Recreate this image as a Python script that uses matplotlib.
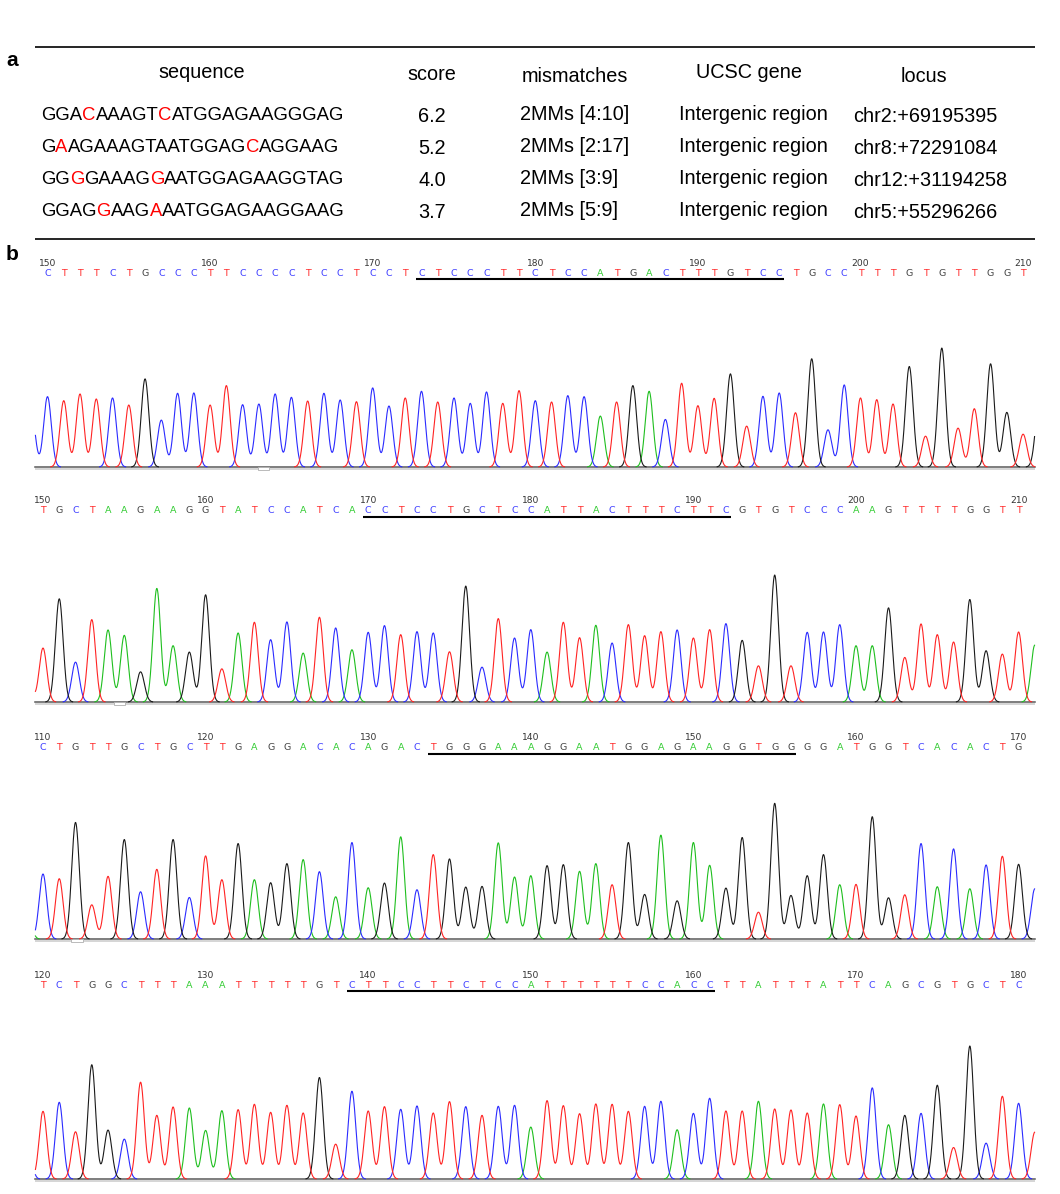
import matplotlib
matplotlib.use('Agg')
from matplotlib import pyplot as plt
from matplotlib.patches import Rectangle
import numpy as np

plt.rcParams['font.family'] = ['Liberation Sans', 'DejaVu Sans']

W, H = 1060, 1194

# ---------------- panel a : off-target table ----------------
headers = ['sequence', 'score', 'mismatches', 'UCSC gene', 'locus']
seqs = ['GGACAAAGTCATGGAGAAGGGAG',
        'GAAGAAAGTAATGGAGCAGGAAG',
        'GGGGAAAGGAATGGAGAAGGTAG',
        'GGAGGAAGAAATGGAGAAGGAAG']
mm_pos = [(4, 10), (2, 17), (3, 9), (5, 9)]   # 1-based mismatch positions (red)
scores = ['6.2', '5.2', '4.0', '3.7']
mismatches = ['2MMs [4:10]', '2MMs [2:17]', '2MMs [3:9]', '2MMs [5:9]']
genes = ['Intergenic region', 'Intergenic region', 'Intergenic region', 'Intergenic region']
loci = ['chr2:+69195395', 'chr8:+72291084', 'chr12:+31194258', 'chr5:+55296266']

# ---------------- panel b : chromatograms ----------------
starts = [150, 150, 110, 120]
bases = ['CTTTCTGCCCTTCCCCTCCTCCTCTCCCTTCTCCATGACTTTGTCCTGCCTTTGTGTTGGT',
         'TGCTAAGAAGGTATCCATCACCTCCTGCTCCATTACTTTCTTCGTGTCCCAAGTTTTGGTT',
         'CTGTTGCTGCTTGAGGACACAGACTGGGAAAGGAATGGAGAAGGTGGGGATGGTCACACTG',
         'TCTGGCTTTAAATTTTTGTCTTCCTTCTCCATTTTTTCCACCTTATTTATTCAGCGTGCTC']
targets = [(173, 195), (170, 192), (134, 156), (139, 161)]   # underlined site

heights1 = [210, 198, 218, 203, 206, 185, 263, 140, 220, 221,
            185, 243, 186, 188, 218, 208, 197, 220, 200, 195,
            236, 182, 206, 226, 194, 206, 190, 224, 190, 228,
            198, 194, 213, 210, 152, 194, 243, 226, 142, 250,
            183, 205, 278, 122, 211, 221, 162, 323, 111, 245,
            206, 201, 188, 300, 92, 355, 116, 174, 308, 163, 98]
heights2 = [161, 308, 119, 246, 215, 199, 90, 339, 168, 149,
            320, 99, 206, 238, 186, 239, 146, 253, 221, 156,
            208, 228, 201, 210, 206, 150, 346, 104, 249, 191,
            216, 149, 238, 192, 229, 176, 231, 198, 210, 215,
            191, 216, 234, 184, 108, 379, 108, 208, 209, 231,
            168, 168, 281, 133, 233, 201, 179, 306, 153, 143, 209]
heights3 = [194, 180, 348, 102, 187, 297, 141, 208, 297, 124,
            248, 177, 285, 177, 168, 225, 237, 201, 126, 288,
            153, 167, 305, 147, 252, 239, 155, 157, 287, 185,
            189, 219, 222, 202, 225, 162, 288, 133, 310, 114,
            288, 220, 152, 303, 80, 405, 130, 189, 252, 162,
            163, 365, 123, 132, 285, 156, 269, 150, 221, 247, 223]
heights4 = [202, 229, 141, 341, 146, 119, 289, 190, 215, 212,
            145, 204, 207, 223, 199, 220, 197, 303, 104, 262,
            203, 216, 208, 218, 197, 231, 216, 190, 217, 220,
            155, 234, 219, 195, 224, 223, 202, 217, 232, 147,
            196, 241, 203, 203, 232, 209, 206, 197, 224, 222,
            188, 272, 162, 190, 196, 280, 94, 397, 107, 247, 226]
heights = [heights1, heights2, heights3, heights4]
# partially visible peaks just outside the called bases (left, right)
edge_peaks = [(('C', 170), ('G', 200)),
              (('T', 120), ('A', 170)),
              (('A', 120), ('C', 150)),
              (('C', 170), ('T', 140))]

trace_col = {'A': '#1fbf1f', 'C': '#2b2bff', 'G': '#1a1a1a', 'T': '#ff2424'}
letter_col = {'A': '#33cc33', 'C': '#4040ff', 'G': '#444444', 'T': '#ff2a2a'}

# layout in pixels: first-base x, number row y, letter row y, underline y, baseline y
panel_px = [(47.5, 263, 273, 279, 467),
            (43.0, 501, 511, 517, 702),
            (43.0, 738, 748, 754, 939),
            (43.0, 976, 985, 991, 1179)]
notch_at = [13.3, 4.7, 2.1, None]
DX = 16.26      # pixels per base
SC = 0.335      # pixels per signal unit
SIG = 0.235     # peak width in bases


def px_rect(x0, y_top, w, h):
    return [x0 / W, 1 - (y_top + h) / H, w / W, h / H]


fig = plt.figure(figsize=(W / 100, H / 100), dpi=100)
renderer = fig.canvas.get_renderer()


def ink_width(ax, s, size):
    t = ax.text(0, 0, s, fontsize=size)
    w = t.get_window_extent(renderer).width
    t.remove()
    return w


def colored_seq(ax, x, y, seq, red, size):
    segs = []
    cur, cur_red = '', None
    for i, ch in enumerate(seq, 1):
        r = i in red
        if cur_red is None or r == cur_red:
            cur += ch
        else:
            segs.append((cur, cur_red))
            cur = ch
        cur_red = r
    segs.append((cur, cur_red))
    end = 0
    for k, (s, r) in enumerate(segs):
        end += len(s)
        col = '#ff0000' if r else 'black'
        if k == 0:
            ax.text(x, y, s, color=col, ha='left', va='center', fontsize=size)
        else:
            xr = x + ink_width(ax, seq[:end], size)
            ax.text(xr, y, s, color=col, ha='right', va='center', fontsize=size)


axt = fig.add_axes([0, 0, 1, 1])
axt.set_xlim(0, W)
axt.set_ylim(H, 0)
axt.axis('off')

axt.text(12, 60, 'a', fontsize=15, fontweight='bold', ha='center', va='center')
axt.text(12, 255, 'b', fontsize=15, fontweight='bold', ha='center', va='center')
axt.hlines([47, 238.5], 35, 1035, color='black', lw=1.2)

FS = 14.3
head_x = [202, 432, 575, 749, 924]
head_y = [72, 74, 76, 73, 76]
for hx, hy, s in zip(head_x, head_y, headers):
    axt.text(hx, hy, s, fontsize=FS, ha='center', va='center')

row_y = [116, 148, 180, 212]
for i in range(4):
    y = row_y[i]
    colored_seq(axt, 41, y, seqs[i], mm_pos[i], 13.3)
    axt.text(432, y + 1, scores[i], fontsize=FS, ha='center', va='center')
    axt.text(520, y - 2, mismatches[i], fontsize=FS, ha='left', va='center')
    axt.text(679, y - 1, genes[i], fontsize=FS, ha='left', va='center')
    axt.text(853, y + 1, loci[i], fontsize=FS, ha='left', va='center')

# chromatogram panels
AX_L, AX_R = 33, 1037
for p in range(4):
    x0, ny, ly, uy, by = panel_px[p]
    top = ny - 8
    bottom = by + 4
    ax = fig.add_axes(px_rect(AX_L, top, AX_R - AX_L, bottom - top))
    xl = (AX_L - x0) / DX
    xr = (AX_R - x0) / DX
    ax.set_xlim(xl, xr)
    ax.set_ylim(-(bottom - by) / SC, (by - top) / SC)
    ax.axis('off')

    seq = bases[p]
    hts = heights[p]
    calls = list(zip(range(len(seq)), seq, hts))
    (lb, lh), (rb, rh) = edge_peaks[p]
    calls = [(-1, lb, lh)] + calls + [(len(seq), rb, rh)]

    xs = np.linspace(xl + 0.15, xr - 0.15, 5000)
    for b in 'ACGT':
        sig = np.zeros_like(xs)
        for i, bb, h in calls:
            if bb == b:
                sig += h * np.exp(-(xs - i) ** 2 / (2 * SIG ** 2))
        sig[sig < 0.6] = np.nan
        ax.plot(xs, sig, color=trace_col[b], lw=0.8, zorder=3)

    # baseline and scroll band
    ax.plot([xl + 0.12, xr - 0.12], [0, 0], color='#5a5a5a', lw=1.1, zorder=2)
    ax.add_patch(Rectangle((xl + 0.12, -3.2 / SC), xr - xl - 0.24, 2.6 / SC,
                           facecolor='#d6d6d6', edgecolor='none', zorder=1))
    if notch_at[p] is not None:
        ax.add_patch(Rectangle((notch_at[p] - 0.35, -3.4 / SC), 0.7, 3.0 / SC,
                               facecolor='white', edgecolor='#b0b0b0', lw=0.6, zorder=2))

    # base calls and position numbers
    for i, bb in enumerate(seq):
        ax.text(i, (by - ly) / SC, bb, color=letter_col[bb], fontsize=6.8,
                family='DejaVu Sans', ha='center', va='center', clip_on=False)
        n = starts[p] + i
        if n % 10 == 0:
            ax.text(i, (by - ny) / SC, str(n), color='#333333', fontsize=6.6,
                    family='DejaVu Sans', ha='center', va='center', clip_on=False)

    t0, t1 = targets[p]
    ax.plot([t0 - starts[p] - 0.32, t1 - starts[p] + 0.32], [(by - uy) / SC] * 2,
            color='black', lw=1.5, solid_capstyle='butt', clip_on=False)

plt.savefig('out.png', dpi=100)
plt.close('all')
